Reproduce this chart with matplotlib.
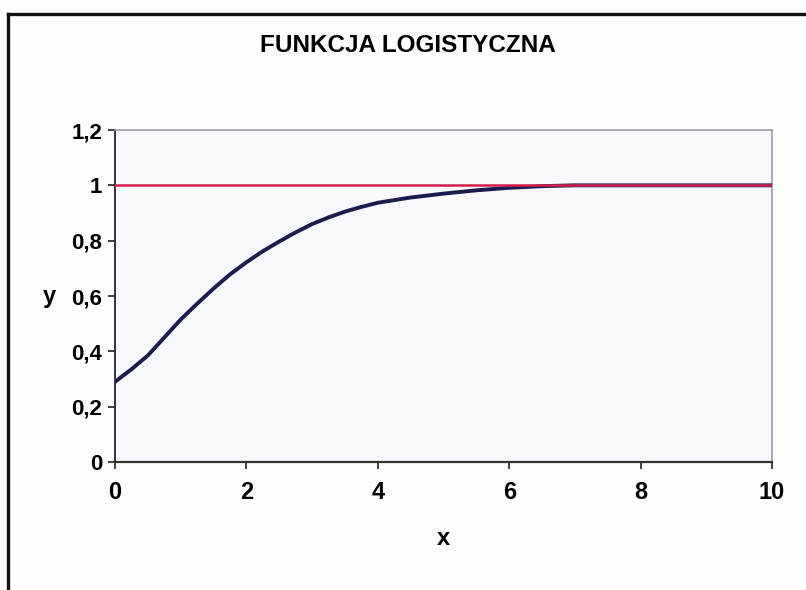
import matplotlib
matplotlib.use("Agg")
import matplotlib.pyplot as plt
from matplotlib.lines import Line2D

# dane
x_vals = [0, 0.25, 0.5, 0.75, 1, 1.25, 1.5, 1.75, 2, 2.25, 2.5, 2.75, 3,
          3.25, 3.5, 3.75, 4, 4.5, 5, 5.5, 6, 6.5, 7, 8, 9, 10]
y_vals = [0.29, 0.335, 0.385, 0.45, 0.515, 0.572, 0.627, 0.678, 0.722, 0.762,
          0.797, 0.83, 0.86, 0.884, 0.905, 0.922, 0.937, 0.956, 0.97, 0.982,
          0.991, 0.997, 1.0, 1.0, 1.0, 1.0]
asymptote = 1.0

x_ticks = [0, 2, 4, 6, 8, 10]
y_ticks = [0, 0.2, 0.4, 0.6, 0.8, 1.0, 1.2]
y_tick_labels = ["0", "0,2", "0,4", "0,6", "0,8", "1", "1,2"]

plt.rcParams["font.family"] = ["Liberation Sans", "DejaVu Sans"]

fig = plt.figure(figsize=(8.06, 5.90), dpi=100)
fig.patch.set_facecolor("#fdfdfb")

ax = fig.add_axes([115 / 806, 1 - 462 / 590, 657 / 806, 332 / 590])
ax.set_facecolor("#f6f8fb")

ax.plot(x_vals, y_vals, color="#1c1c4e", linewidth=2.8, zorder=3)
ax.axhline(asymptote, color="#d41f4c", linewidth=1.8, zorder=4)

ax.set_xlim(0, 10)
ax.set_ylim(0, 1.2)
ax.set_xticks(x_ticks)
ax.set_xticklabels([str(t) for t in x_ticks], fontsize=17, fontweight="bold")
ax.set_yticks(y_ticks)
ax.set_yticklabels(y_tick_labels, fontsize=16, fontweight="bold")

ax.tick_params(axis="x", direction="out", length=5, width=1.2, pad=9, color="#222222")
ax.tick_params(axis="y", direction="out", length=5, width=1.2, pad=4, color="#222222")

ax.spines["left"].set_color("#333344")
ax.spines["left"].set_linewidth(1.4)
ax.spines["bottom"].set_color("#333333")
ax.spines["bottom"].set_linewidth(1.6)
ax.spines["top"].set_color("#9a9fa8")
ax.spines["top"].set_linewidth(1.2)
ax.spines["right"].set_color("#9a9fa8")
ax.spines["right"].set_linewidth(1.2)

ax.set_xlabel("x", fontsize=17, fontweight="bold", labelpad=16)
ax.set_ylabel("y", fontsize=17, fontweight="bold", rotation=0, labelpad=16, va="center")

fig.text(408 / 806, 1 - 46 / 590, "FUNKCJA LOGISTYCZNA",
         family=["Liberation Sans Narrow", "Liberation Sans", "DejaVu Sans"],
         fontsize=17.5, fontweight="bold", ha="center", va="center")

# ramka wykresu (skan - widoczna tylko gora i lewa krawedz)
fig.add_artist(Line2D([8 / 806, 8 / 806], [0, 1 - 14 / 590], color="#111111", linewidth=2.4))
fig.add_artist(Line2D([8 / 806, 1], [1 - 14 / 590, 1 - 14 / 590], color="#111111", linewidth=2.4))

plt.savefig("out.png", dpi=100, facecolor=fig.get_facecolor())
